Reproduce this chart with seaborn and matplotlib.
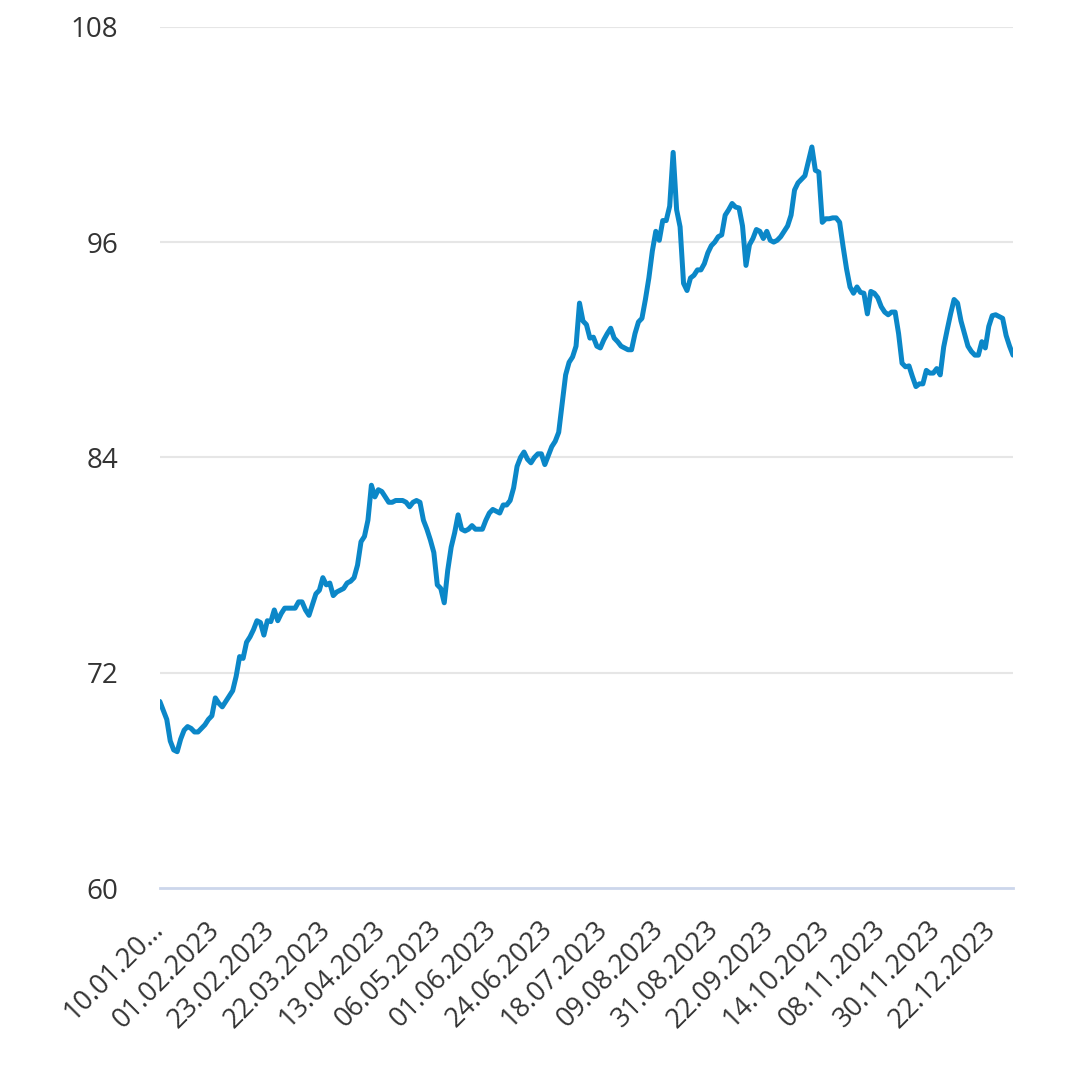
import numpy as np
import pandas as pd
import matplotlib
matplotlib.use("Agg")
import matplotlib.pyplot as plt
import seaborn as sns

# daily values, one per trading date (10.01.2023 .. 30.12.2023)
rate = [
    70.4, 69.9, 69.4, 68.2, 67.7, 67.6, 68.3, 68.8, 69.0, 68.9,
    68.7, 68.7, 68.9, 69.1, 69.4, 69.6, 70.6, 70.3, 70.1, 70.4,
    70.7, 71.0, 71.8, 72.9, 72.8, 73.7, 74.0, 74.4, 74.9, 74.8,
    74.1, 74.9, 74.85, 75.5, 74.9, 75.3, 75.6, 75.6, 75.6, 75.6,
    75.95, 75.95, 75.5, 75.2, 75.8, 76.4, 76.6, 77.3, 76.9, 77.0,
    76.3, 76.5, 76.6, 76.7, 77.0, 77.1, 77.3, 78.0, 79.3, 79.6,
    80.5, 82.45, 81.8, 82.2, 82.1, 81.8, 81.5, 81.5, 81.6, 81.6,
    81.6, 81.5, 81.25, 81.5, 81.6, 81.5, 80.5, 80.0, 79.4, 78.7,
    76.9, 76.7, 75.9, 77.7, 79.0, 79.8, 80.8, 80.0, 79.9, 80.0,
    80.2, 80.0, 80.0, 80.0, 80.5, 80.9, 81.1, 81.0, 80.9, 81.35,
    81.35, 81.6, 82.3, 83.5, 84.0, 84.3, 83.9, 83.7, 84.0, 84.2,
    84.2, 83.6, 84.1, 84.6, 84.9, 85.4, 87.0, 88.6, 89.3, 89.6,
    90.2, 92.6, 91.6, 91.4, 90.65, 90.7, 90.2, 90.1, 90.55, 90.9,
    91.2, 90.65, 90.45, 90.2, 90.1, 90.0, 90.0, 90.9, 91.55, 91.75,
    92.8, 94.0, 95.5, 96.6, 96.1, 97.2, 97.2, 98.0, 101.0, 97.8,
    96.85, 93.7, 93.3, 94.0, 94.15, 94.45, 94.45, 94.8, 95.4, 95.8,
    96.0, 96.3, 96.4, 97.5, 97.8, 98.15, 97.95, 97.9, 96.9, 94.7,
    95.85, 96.2, 96.7, 96.6, 96.2, 96.6, 96.1, 96.0, 96.1, 96.3,
    96.6, 96.9, 97.5, 98.9, 99.3, 99.5, 99.7, 100.5, 101.3, 100.0,
    99.9, 97.1, 97.3, 97.3, 97.35, 97.35, 97.1, 95.75, 94.5, 93.5,
    93.15, 93.5, 93.2, 93.15, 92.0, 93.25, 93.15, 92.9, 92.4, 92.1,
    91.95, 92.1, 92.1, 90.9, 89.25, 89.05, 89.1, 88.5, 87.95, 88.1,
    88.1, 88.85, 88.7, 88.7, 88.95, 88.6, 90.15, 91.1, 92.0, 92.8,
    92.6, 91.6, 90.9, 90.2, 89.9, 89.7, 89.7, 90.45, 90.1, 91.3,
    91.9, 91.95, 91.85, 91.75, 90.8, 90.2, 89.7,
]

tick_labels = [
    "10.01.20…", "01.02.2023", "23.02.2023", "22.03.2023", "13.04.2023",
    "06.05.2023", "01.06.2023", "24.06.2023", "18.07.2023", "09.08.2023",
    "31.08.2023", "22.09.2023", "14.10.2023", "08.11.2023", "30.11.2023",
    "22.12.2023",
]
tick_step = 16
y_ticks = [60, 72, 84, 96, 108]

LINE_COLOR = "#0b87c8"
GRID_COLOR = "#e6e6e6"
AXIS_COLOR = "#ccd6eb"
TEXT_COLOR = "#333333"

sns.set_style("white")
plt.rcParams["font.family"] = ["Open Sans", "DejaVu Sans"]

df = pd.DataFrame({"idx": np.arange(len(rate)), "rate": rate})

fig = plt.figure(figsize=(10.8, 10.7), dpi=100)
ax = fig.add_axes([0.148, 0.170, 0.790, 0.805])

for y in y_ticks[1:]:
    ax.axhline(y, color=GRID_COLOR, lw=1.5, zorder=0)

sns.lineplot(data=df, x="idx", y="rate", ax=ax, color=LINE_COLOR, lw=3.6,
             solid_joinstyle="round", solid_capstyle="round", zorder=3)

ax.set_xlim(0, len(rate) - 1)
ax.set_ylim(60, 108)
ax.set_yticks(y_ticks)
ax.set_yticklabels([str(v) for v in y_ticks])
ax.set_xticks(np.arange(len(tick_labels)) * tick_step)
ax.set_xticklabels(tick_labels, rotation=45, ha="right", va="center",
                   rotation_mode="anchor")

ax.tick_params(axis="y", length=0, pad=30, labelsize=20, labelcolor=TEXT_COLOR)
ax.tick_params(axis="x", length=0, pad=27, labelsize=19.5, labelcolor=TEXT_COLOR)
ax.set_xlabel("")
ax.set_ylabel("")

for side in ["top", "right", "left"]:
    ax.spines[side].set_visible(False)
ax.spines["bottom"].set_color(AXIS_COLOR)
ax.spines["bottom"].set_linewidth(2)
ax.spines["bottom"].set_zorder(1)

fig.savefig("out.png", dpi=100, facecolor="white")
plt.close(fig)
